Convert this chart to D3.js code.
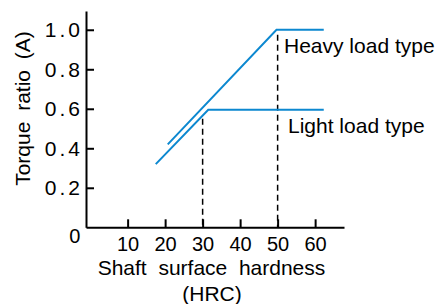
<!DOCTYPE html>
<html>
<head>
<meta charset="utf-8">
<script src="https://cdn.jsdelivr.net/npm/d3@7"></script>
<style>
  html, body { margin: 0; padding: 0; background: #fff; }
  svg { display: block; font-family: Arial, "Liberation Sans", sans-serif; }
</style>
</head>
<body>
<svg id="chart" width="438" height="304"></svg>
<script>
// Data
const xTicks = [10, 20, 30, 40, 50, 60];
const yTicks = [0.2, 0.4, 0.6, 0.8, 1.0];
const heavyX = [20.7, 49.7, 62.3];
const heavyY = [0.42, 1.0, 1.0];
const lightX = [17.5, 31.5, 62.3];
const lightY = [0.32, 0.595, 0.595];
const dashX = [30, 50];
const dashTop = [0.55, 0.975];
const seriesLabels = ["Heavy load type", "Light load type"];
const xTitle = "Shaft  surface  hardness";
const xTitle2 = "(HRC)";
const yTitle = "Torque ratio (A)";

const svg = d3.select("#chart");
const x = d3.scaleLinear().domain([-1.1, 67.7]).range([86, 344]);
const y = d3.scaleLinear().domain([0, 1.095]).range([227.3, 11]);
const blue = "#0c88d0";
const FF = "Arial, 'Liberation Sans', sans-serif";

// axes
const xAxis = d3.axisBottom(x).tickValues(xTicks).tickSizeInner(-8).tickSizeOuter(0).tickPadding(9.5);
const gx = svg.append("g").attr("transform", `translate(0,${y(0)})`).call(xAxis);
gx.select(".domain").attr("stroke", "#000").attr("stroke-width", 2);
gx.selectAll(".tick line").attr("stroke", "#000").attr("stroke-width", 2);
gx.selectAll(".tick text").attr("font-size", 20).attr("fill", "#000").attr("font-family", FF);

const yAxis = d3.axisLeft(y).tickValues(yTicks).tickSizeInner(-8).tickSizeOuter(0)
  .tickPadding(3).tickFormat(d3.format(".1f"));
const gy = svg.append("g").attr("transform", `translate(${x(-1.1)},0)`).call(yAxis);
gy.select(".domain").attr("stroke", "#000").attr("stroke-width", 2);
gy.selectAll(".tick line").attr("stroke", "#000").attr("stroke-width", 2);
gy.selectAll(".tick text").attr("font-size", 21).attr("fill", "#000")
  .attr("font-family", FF).attr("letter-spacing", 3);

// origin label
svg.append("text").attr("x", 74.7).attr("y", 242.5).attr("text-anchor", "middle")
  .attr("font-size", 20).text("0");

// dashed lines
dashX.forEach((d, i) => {
  svg.append("line").attr("x1", x(d)).attr("x2", x(d)).attr("y1", y(dashTop[i])).attr("y2", y(0))
    .attr("stroke", "#000").attr("stroke-width", 1.5).attr("stroke-dasharray", "6,4");
});

const line = d3.line().x(d => x(d[0])).y(d => y(d[1]));
svg.append("path").datum(heavyX.map((v, i) => [v, heavyY[i]])).attr("d", line)
  .attr("fill", "none").attr("stroke", blue).attr("stroke-width", 2);
svg.append("path").datum(lightX.map((v, i) => [v, lightY[i]])).attr("d", line)
  .attr("fill", "none").attr("stroke", blue).attr("stroke-width", 2);

// series labels
svg.append("text").attr("x", 284).attr("y", 53.3).attr("font-size", 21).text(seriesLabels[0]);
svg.append("text").attr("x", 288).attr("y", 133.3).attr("font-size", 21).text(seriesLabels[1]);

// axis titles
svg.append("text").attr("x", 211.5).attr("y", 275.3).attr("text-anchor", "middle").attr("font-size", 21)
  .style("white-space", "pre").text(xTitle);
svg.append("text").attr("x", 212).attr("y", 300.5).attr("text-anchor", "middle").attr("font-size", 21)
  .text(xTitle2);
svg.append("text").attr("transform", "translate(30,108.5) rotate(-90)").attr("text-anchor", "middle")
  .attr("font-size", 21).attr("word-spacing", 5).text(yTitle);
</script>
</body>
</html>
